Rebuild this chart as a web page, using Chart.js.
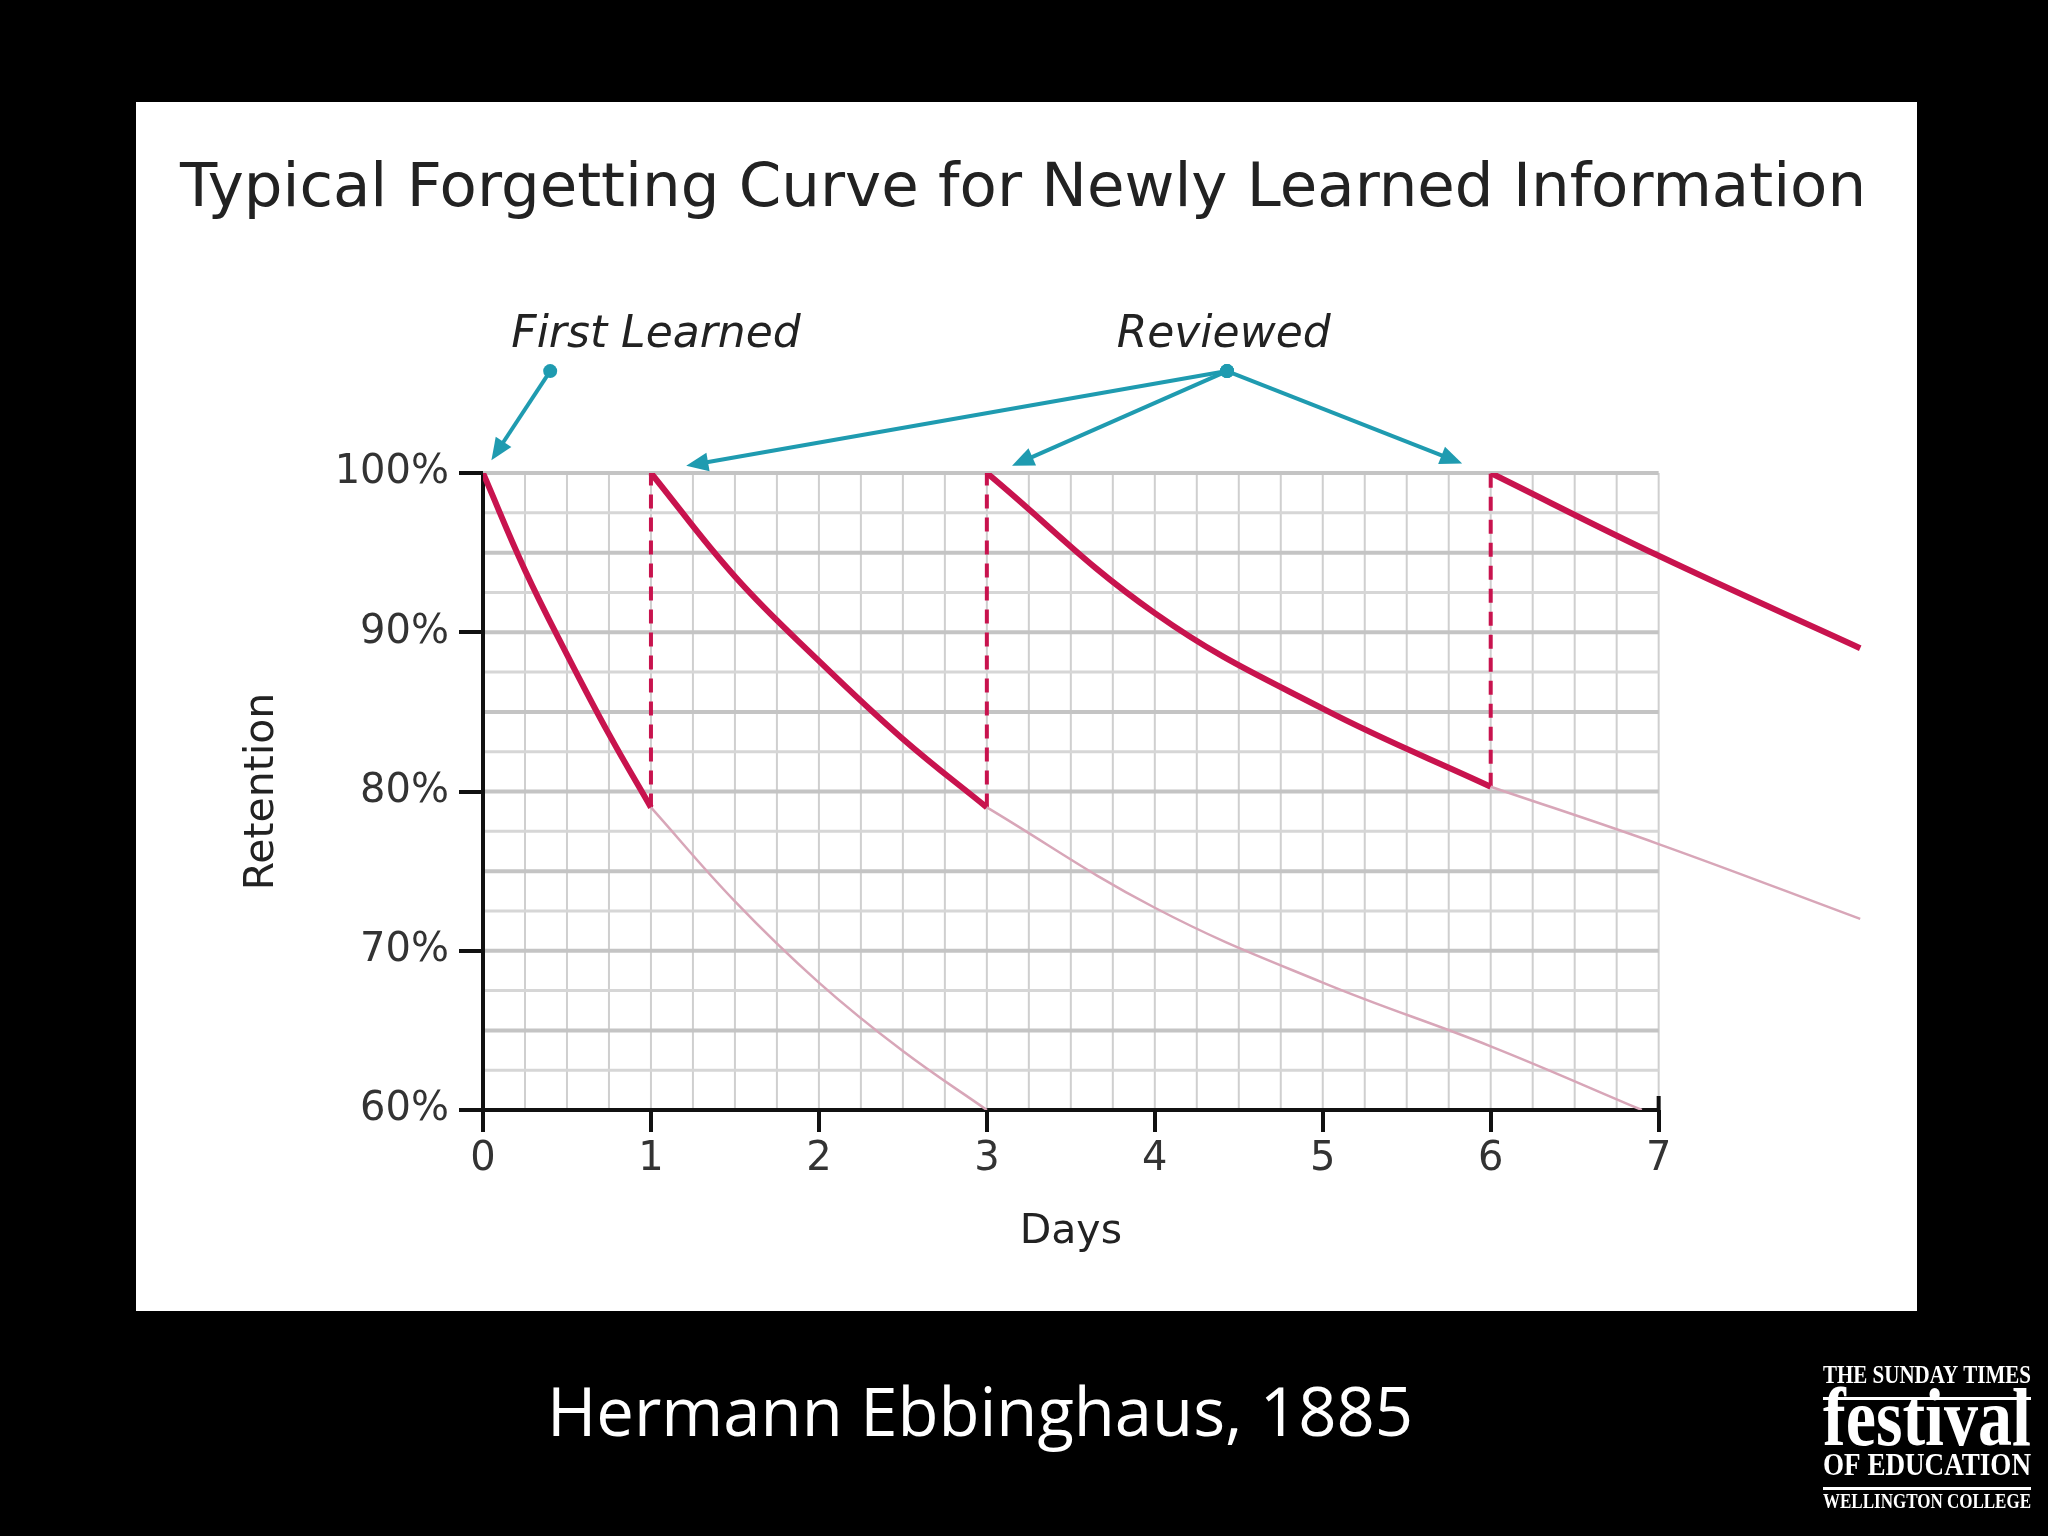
<!DOCTYPE html>
<html><head><meta charset="utf-8">
<script src="https://cdn.jsdelivr.net/npm/chart.js@4"></script>
<style>html,body{margin:0;background:#000;}canvas{display:block;}</style>
</head><body><canvas id="c" width="2048" height="1536"></canvas>
<script>
const chartTitle = 'Typical Forgetting Curve for Newly Learned Information';
const yTicks = [60, 70, 80, 90, 100];
const xTicks = [0, 1, 2, 3, 4, 5, 6, 7];
const c1Days = [0, 0.25, 0.5, 0.75, 1];
const c1Ret  = [100, 93.9, 88.6, 83.6, 79];
const f1Days = [1, 1.5, 2, 2.5, 3];
const f1Ret  = [79, 73.1, 68, 63.7, 60];
const c2Days = [1, 1.5, 2, 2.5, 3];
const c2Ret  = [100, 93.5, 88.2, 83.3, 79];
const f2Days = [3, 4, 5, 6, 6.9];
const f2Ret  = [79, 72.7, 68, 64, 60];
const c3Days = [3, 4, 5, 6];
const c3Ret  = [100, 91.2, 85.2, 80.3];
const f3Days = [6, 7, 8.2];
const f3Ret  = [80.3, 76.7, 72];
const c4Days = [6, 7, 8.2];
const c4Ret  = [100, 94.8, 89];
const reviewDays = [1, 3, 6];
const reviewLow  = [79, 79, 80.3];

const strong = '#c8134e', faded = '#d8a6b8', teal = '#1f9bb0';
const pts = (d, r) => d.map((x, i) => ({x, y: r[i]}));
const curve = (d, r, main) => ({data: pts(d, r), borderColor: main ? strong : faded,
  borderWidth: main ? 6 : 2.5, pointRadius: 0, tension: 0.4, fill: false});
const datasets = [
  curve(f1Days, f1Ret, false), curve(f2Days, f2Ret, false), curve(f3Days, f3Ret, false),
  curve(c1Days, c1Ret, true), curve(c2Days, c2Ret, true), curve(c3Days, c3Ret, true), curve(c4Days, c4Ret, true)
];
reviewDays.forEach((d, i) => datasets.push({data: [{x: d, y: reviewLow[i]}, {x: d, y: 100}],
  borderColor: strong, borderWidth: 4, borderDash: [14, 9], pointRadius: 0}));

const deco = {
  id: 'deco',
  beforeDraw(ch) {
    const c = ch.ctx; c.save();
    c.fillStyle = '#000'; c.fillRect(0, 0, 2048, 1536);
    c.fillStyle = '#fff'; c.fillRect(136, 102, 1781, 1209);
    c.restore();
  },
  beforeDatasetsDraw(ch) {
    const c = ch.ctx, x = ch.scales.x, y = ch.scales.y; c.save();
    c.strokeStyle = '#cfcfcf'; c.lineWidth = 2;
    for (let d = 0.25; d <= 7.001; d += 0.25) {
      const px = x.getPixelForValue(d);
      c.beginPath(); c.moveTo(px, y.getPixelForValue(100)); c.lineTo(px, y.getPixelForValue(60)); c.stroke();
    }
    for (let v = 62.5; v <= 100.001; v += 2.5) {
      const py = y.getPixelForValue(v);
      c.strokeStyle = (v % 5 === 0) ? '#c4c4c4' : '#d6d6d6'; c.lineWidth = (v % 5 === 0) ? 4 : 3;
      c.beginPath(); c.moveTo(x.getPixelForValue(0), py); c.lineTo(x.getPixelForValue(7), py); c.stroke();
    }
    c.strokeStyle = '#111'; c.lineWidth = 4;
    c.beginPath(); c.moveTo(x.getPixelForValue(0), y.getPixelForValue(100)); c.lineTo(x.getPixelForValue(0), y.getPixelForValue(60));
    c.lineTo(x.getPixelForValue(7), y.getPixelForValue(60)); c.stroke();
    const p7 = x.getPixelForValue(7), p60 = y.getPixelForValue(60);
    c.beginPath(); c.moveTo(p7, p60 - 14); c.lineTo(p7, p60); c.stroke();
    c.restore();
  },
  afterDraw(ch) {
    const c = ch.ctx, x = ch.scales.x, y = ch.scales.y; c.save();
    c.fillStyle = '#222'; c.textAlign = 'center'; c.textBaseline = 'middle';
    c.font = '61px "DejaVu Sans"';
    c.fillText(chartTitle, 1023, 190);
    c.font = '41px "DejaVu Sans"';
    c.fillText('Days', (x.getPixelForValue(0) + x.getPixelForValue(7)) / 2, 1232);
    c.save(); c.translate(262, (y.getPixelForValue(60) + y.getPixelForValue(100)) / 2); c.rotate(-Math.PI / 2);
    c.fillText('Retention', 0, 0); c.restore();
    c.font = 'italic 44px "DejaVu Sans"';
    c.fillText('First Learned', x.getPixelForValue(1.03), y.getPixelForValue(108.6));
    c.fillText('Reviewed', x.getPixelForValue(4.41), y.getPixelForValue(108.6));
    const arrow = (fx, fy, tx, ty) => {
      const ax = x.getPixelForValue(fx), ay = y.getPixelForValue(fy), bx = x.getPixelForValue(tx), by = y.getPixelForValue(ty);
      c.strokeStyle = teal; c.fillStyle = teal; c.lineWidth = 4;
      const ang = Math.atan2(by - ay, bx - ax);
      c.beginPath(); c.moveTo(ax, ay); c.lineTo(bx - 18 * Math.cos(ang), by - 18 * Math.sin(ang)); c.stroke();
      c.beginPath(); c.moveTo(bx, by);
      c.lineTo(bx - 24 * Math.cos(ang - 0.4), by - 24 * Math.sin(ang - 0.4));
      c.lineTo(bx - 24 * Math.cos(ang + 0.4), by - 24 * Math.sin(ang + 0.4)); c.closePath(); c.fill();
      c.beginPath(); c.arc(ax, ay, 7, 0, Math.PI * 2); c.fill();
    };
    arrow(0.4, 106.4, 0.05, 100.8);
    arrow(4.43, 106.4, 1.21, 100.45);
    arrow(4.43, 106.4, 3.15, 100.45);
    arrow(4.43, 106.4, 5.83, 100.6);
    c.fillStyle = '#fff'; c.font = '67px "Open Sans"';
    c.fillText('Hermann Ebbinghaus, 1885', 980, 1417);
    const fit = (t, font, cy, w) => {
      c.font = font; const m = c.measureText(t).width;
      c.save(); c.translate(1927, cy); c.scale(w / m, 1); c.fillText(t, 0, 0); c.restore();
    };
    fit('THE SUNDAY TIMES', 'bold 26px "Liberation Serif"', 1376, 208);
    fit('festival', 'bold 82px "Liberation Serif"', 1424, 208);
    fit('OF EDUCATION', 'bold 32px "Liberation Serif"', 1467, 208);
    fit('WELLINGTON COLLEGE', 'bold 21px "Liberation Serif"', 1503, 208);
    c.fillRect(1823, 1397, 208, 3); c.fillRect(1823, 1487, 208, 3);
    c.restore();
  }
};

new Chart(document.getElementById('c'), {
  type: 'line',
  data: {datasets},
  options: {
    responsive: false, devicePixelRatio: 1, animation: false,
    layout: {padding: {top: 473, right: 171, left: 0, bottom: 0}},
    plugins: {legend: {display: false}, tooltip: {enabled: false}},
    scales: {
      x: {type: 'linear', min: 0, max: 8.3,
        afterBuildTicks: s => { s.ticks = xTicks.map(v => ({value: v})); },
        afterFit: s => { s.height = 426; },
        border: {display: false},
        grid: {drawOnChartArea: false, tickLength: 22, lineWidth: 4, color: '#111'},
        ticks: {font: {size: 40, family: 'DejaVu Sans'}, color: '#333', padding: 4}},
      y: {min: 60, max: 100,
        afterBuildTicks: s => { s.ticks = yTicks.map(v => ({value: v})); },
        afterFit: s => { s.width = 483; },
        border: {display: false},
        grid: {drawOnChartArea: false, tickLength: 24, lineWidth: 4, color: '#111'},
        ticks: {font: {size: 40, family: 'DejaVu Sans'}, color: '#333', padding: 10, callback: v => v + '%'}}
    }
  },
  plugins: [deco]
});
</script></body></html>
